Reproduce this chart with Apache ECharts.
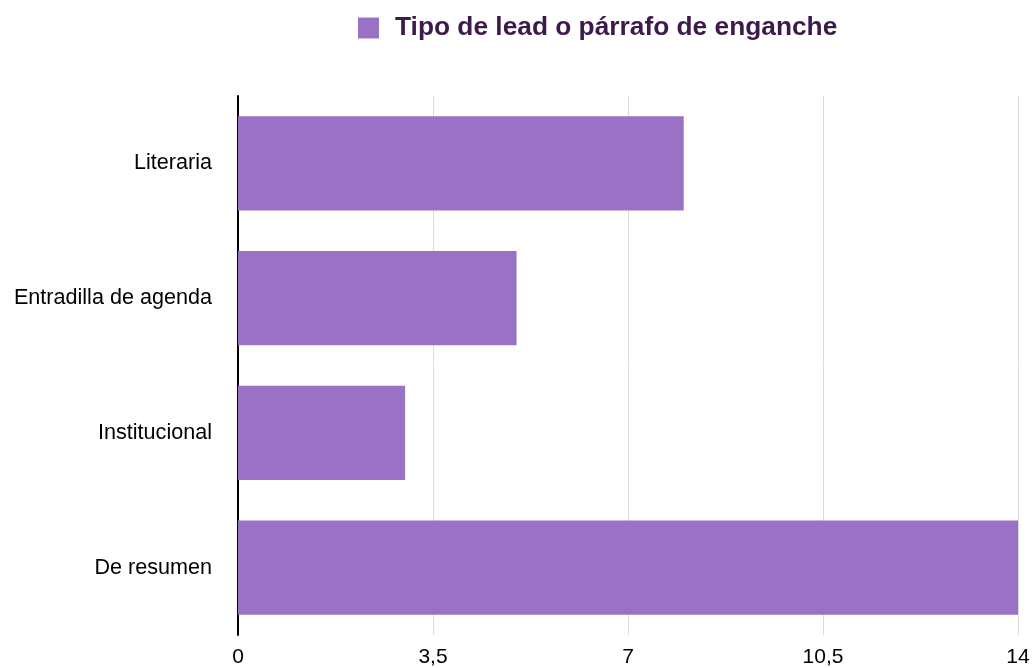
<!DOCTYPE html>
<html>
<head>
<meta charset="utf-8">
<script src="https://cdn.jsdelivr.net/npm/echarts@6/dist/echarts.min.js"></script>
<style>
  html, body { margin: 0; padding: 0; background: #fff; }
  #chart { width: 1035px; height: 668px; }
</style>
</head>
<body>
<div id="chart"></div>
<script>
const seriesName = 'Tipo de lead o párrafo de enganche';
const categories = ['Literaria', 'Entradilla de agenda', 'Institucional', 'De resumen'];
const values = [8, 5, 3, 14];

const chart = echarts.init(document.getElementById('chart'));
chart.setOption({
  animation: false,
  textStyle: { fontFamily: 'Liberation Sans, Arial, sans-serif' },
  legend: {
    left: 353,
    top: 10,
    itemWidth: 21,
    itemHeight: 21,
    icon: 'rect',
    data: [seriesName],
    textStyle: {
      fontSize: 26.3,
      fontWeight: 'bold',
      color: '#3d1a4b',
      padding: [0, 0, 0, 11]
    }
  },
  grid: {
    left: 238,
    right: 17,
    top: 96,
    bottom: 32,
    containLabel: false
  },
  xAxis: {
    type: 'value',
    min: 0,
    max: 14,
    interval: 3.5,
    axisLine: { show: false },
    axisTick: { show: false },
    splitLine: { show: true, lineStyle: { color: '#dddddd', width: 1 } },
    axisLabel: {
      fontSize: 21,
      color: '#000',
      margin: 12,
      formatter: function (v) { return String(v).replace('.', ','); }
    }
  },
  yAxis: {
    type: 'category',
    inverse: true,
    data: categories,
    axisLine: { show: true, lineStyle: { color: '#000', width: 2 } },
    axisTick: { show: false },
    axisLabel: { fontSize: 21.6, color: '#000', margin: 26 }
  },
  series: [{
    name: seriesName,
    type: 'bar',
    data: values,
    barCategoryGap: '30%',
    itemStyle: { color: '#9a72c5' }
  }]
});
</script>
</body>
</html>
